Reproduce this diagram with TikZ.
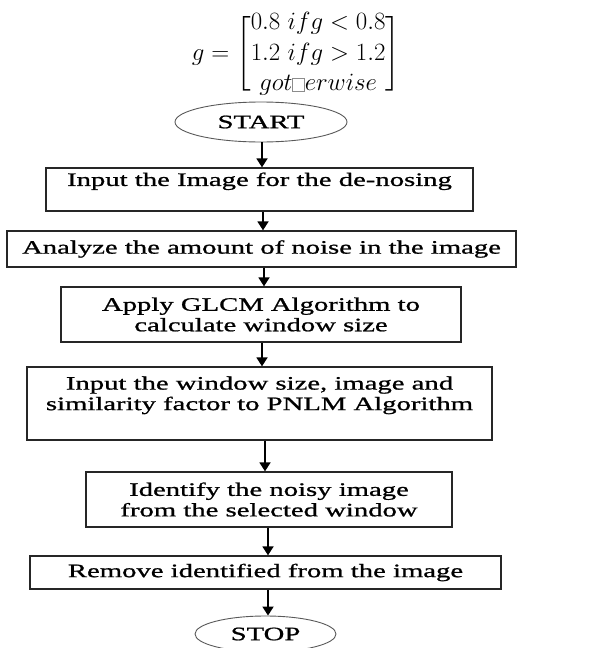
\documentclass[tikz,border=0pt]{standalone}
\usepackage{amsmath}
\usepackage{fontspec}
\usetikzlibrary{shapes.geometric,arrows.meta}
\newfontfamily\boxfont[FakeStretch=1.51,FakeBold=1]{Liberation Serif}
\newcommand{\missingglyph}{\text{\raisebox{-0.5pt}{\fboxsep=0pt\fboxrule=0.7pt\color{black!45}\fbox{\rule{0pt}{12pt}\hspace{11pt}}}}}
\begin{document}
\begin{tikzpicture}[x=1pt,y=-1pt,
  proc/.style={draw=black!85, line width=1.3pt, rectangle, inner sep=0pt, align=center,
    font={\boxfont\fontsize{19}{20.5}\selectfont}},
  term/.style={draw=black!65, line width=0.9pt, ellipse, inner sep=0pt,
    font={\boxfont\fontsize{19}{20.5}\selectfont}},
  arr/.style={line width=1.8pt, -{Triangle[width=11pt,length=9pt]}}]
\useasboundingbox (0,0) rectangle (596,648);

\node (eq) at (296,54) {\fontsize{24}{29}\selectfont\delimiterfactor=1000\delimitershortfall=0pt
  $\renewcommand{\arraystretch}{1.05}g=\left[\vcenter{\hrule height 70pt width 0pt}\smash{\begin{matrix}0.8\ if g<0.8\\ 1.2\ if g>1.2\\ got\missingglyph erwise\end{matrix}}\right]$};

\node[term, minimum width=172pt, minimum height=40pt] (start) at (261,122) {START};
\node[proc, minimum width=427pt, minimum height=43pt] (b1) at (259.5,189.5) {Input the Image for the de-nosing\\ \mbox{}};
\node[proc, minimum width=509pt, minimum height=36pt] (b2) at (261.5,249) {Analyze the amount of noise in the image};
\node[proc, minimum width=400pt, minimum height=55pt] (b3) at (261,314.5) {Apply GLCM Algorithm to\\ calculate window size};
\node[proc, minimum width=465pt, minimum height=73pt] (b4) at (259.5,403.5) {Input the window size, image and\\ similarity factor to PNLM Algorithm\\ \mbox{}};
\node[proc, minimum width=366pt, minimum height=55pt] (b5) at (269,499.5) {Identify the noisy image\\ from the selected window};
\node[proc, minimum width=471pt, minimum height=33pt] (b6) at (265.5,572.5) {Remove identified from the image};
\node[term, minimum width=141pt, minimum height=36pt] (stop) at (265.5,634) {STOP};

\draw[arr] ([xshift=1pt]start.south) -- ([xshift=1pt]start.south |- b1.north);
\draw[arr] ([xshift=3.5pt]b1.south) -- ([xshift=3.5pt]b1.south |- b2.north);
\draw[arr] ([xshift=2.5pt]b2.south) -- ([xshift=2.5pt]b2.south |- b3.north);
\draw[arr] ([xshift=1pt]b3.south) -- ([xshift=1pt]b3.south |- b4.north);
\draw[arr] ([xshift=5.5pt]b4.south) -- ([xshift=5.5pt]b4.south |- b5.north);
\draw[arr] ([xshift=-1pt]b5.south) -- ([xshift=-1pt]b5.south |- b6.north);
\draw[arr] ([xshift=2.5pt]b6.south) -- ([xshift=2.5pt]b6.south |- stop.north);
\end{tikzpicture}
\end{document}
